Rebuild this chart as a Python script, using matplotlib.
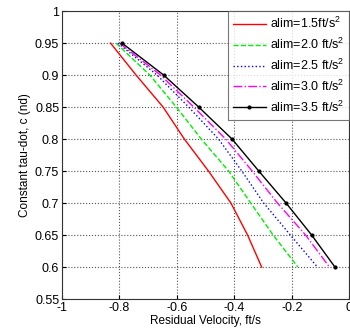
import matplotlib
matplotlib.use('Agg')
import matplotlib.pyplot as plt

plt.rcParams['font.family'] = ['Liberation Sans', 'DejaVu Sans']
plt.rcParams['mathtext.default'] = 'regular'

# tau-dot levels (shared by all curves)
c_vals = [0.95, 0.90, 0.85, 0.80, 0.75, 0.70, 0.65, 0.60]

# residual velocity per acceleration limit
v_15 = [-0.831, -0.742, -0.648, -0.574, -0.490, -0.412, -0.354, -0.305]
v_20 = [-0.812, -0.694, -0.602, -0.515, -0.420, -0.343, -0.265, -0.179]
v_25 = [-0.805, -0.669, -0.559, -0.455, -0.374, -0.298, -0.205, -0.111]
v_30 = [-0.800, -0.657, -0.541, -0.430, -0.338, -0.250, -0.152, -0.069]
v_35 = [-0.791, -0.646, -0.524, -0.408, -0.315, -0.220, -0.131, -0.050]

labels = ['alim=1.5ft/s$^2$', 'alim=2.0 ft/s$^2$', 'alim=2.5 ft/s$^2$',
          'alim=3.0 ft/s$^2$', 'alim=3.5 ft/s$^2$']

x_ticks = [-1, -0.8, -0.6, -0.4, -0.2, 0]
x_tick_labels = ['-1', '-0.8', '-0.6', '-0.4', '-0.2', '0']
y_ticks = [0.55, 0.6, 0.65, 0.7, 0.75, 0.8, 0.85, 0.9, 0.95, 1]
y_tick_labels = ['0.55', '0.6', '0.65', '0.7', '0.75', '0.8', '0.85', '0.9', '0.95', '1']


def main():
    fig = plt.figure(figsize=(3.5, 3.36), dpi=100)
    ax = fig.add_axes([0.177, 0.110, 0.821, 0.857])

    ax.plot(v_15, c_vals, color='red', linestyle='-', linewidth=1, label=labels[0])
    ax.plot(v_20, c_vals, color='#00ee00', linestyle='--', linewidth=1, label=labels[1])
    ax.plot(v_25, c_vals, color='blue', linestyle=':', linewidth=1, label=labels[2])
    ax.plot(v_30, c_vals, color='magenta', linestyle='-.', linewidth=1, label=labels[3])
    ax.plot(v_35, c_vals, color='black', linestyle='-', linewidth=1,
            marker='.', markersize=4, label=labels[4])

    ax.set_xlim(-1, 0)
    ax.set_ylim(0.55, 1)
    ax.set_xticks(x_ticks)
    ax.set_xticklabels(x_tick_labels)
    ax.set_yticks(y_ticks)
    ax.set_yticklabels(y_tick_labels)
    ax.tick_params(direction='in', labelsize=9, length=3, pad=2)
    ax.grid(True, linestyle=':', color='#555555', linewidth=0.8)

    ax.set_xlabel('Residual Velocity, ft/s', fontsize=8.5, labelpad=1)
    ax.set_ylabel('Constant tau-dot, c (nd)', fontsize=8.5, labelpad=3)

    leg = ax.legend(loc='upper right', fontsize=9, borderaxespad=0,
                    fancybox=False, handlelength=2.7, handletextpad=0.3,
                    labelspacing=0.45, borderpad=0.4)
    leg.get_frame().set_edgecolor('#555555')
    leg.get_frame().set_linewidth(0.8)

    for s in ax.spines.values():
        s.set_color('#333333')

    plt.savefig('out.png', dpi=100)


if __name__ == '__main__':
    main()
